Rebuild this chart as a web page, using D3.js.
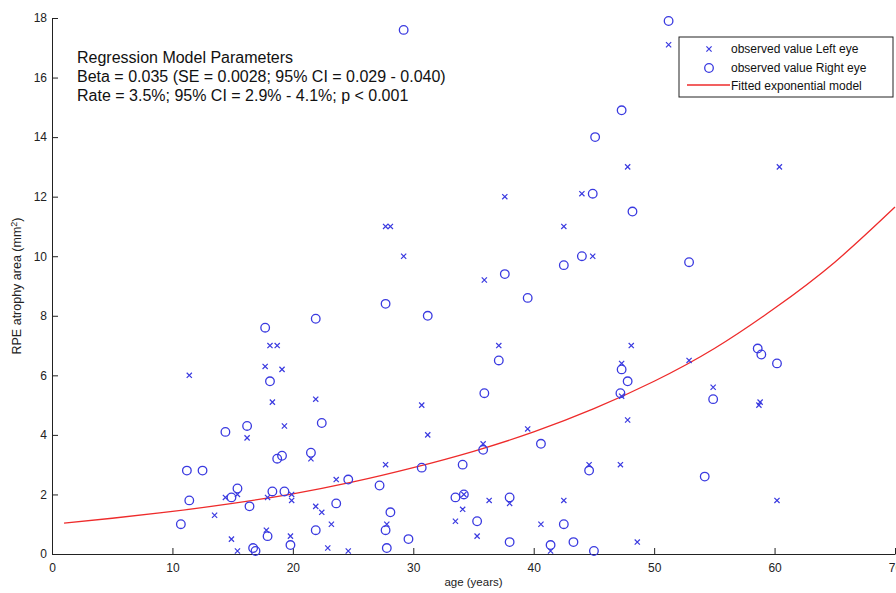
<!DOCTYPE html>
<html>
<head>
<meta charset="utf-8">
<script src="https://cdn.jsdelivr.net/npm/d3@7"></script>
<style>
  body { margin: 0; background: #fff; }
  svg { display: block; font-family: "Liberation Sans", Arial, Helvetica, sans-serif; }
</style>
</head>
<body>
<svg id="chart"></svg>
<script>
// observed values, left eye (crosses)
const leftAge = [11.4, 13.5, 14.4, 14.9, 15.4, 15.4, 16.2, 17.7, 17.8, 17.9, 18.1, 18.3, 18.7, 19.1, 19.3, 19.8, 19.9, 19.9,
  21.5, 21.9, 21.9, 22.4, 22.9, 23.2, 23.6, 24.6, 27.7, 27.7, 28.1, 27.8, 29.2, 30.7, 31.2, 33.5, 34.1, 34.2, 35.3, 35.8,
  35.9, 36.3, 37.1, 37.6, 38.0, 39.5, 40.6, 41.4, 42.5, 42.5, 44.0, 44.6, 44.9, 47.2, 47.3, 47.3, 47.8, 47.8, 48.1, 48.6,
  51.2, 52.9, 54.9, 58.7, 58.8, 60.2, 60.4]
const leftArea = [6.0, 1.3, 1.9, 0.5, 2.0, 0.1, 3.9, 6.3, 0.8, 1.9, 7.0, 5.1, 7.0, 6.2, 4.3, 0.6, 2.0, 1.8,
  3.2, 5.2, 1.6, 1.4, 0.2, 1.0, 2.5, 0.1, 3.0, 11.0, 11.0, 1.0, 10.0, 5.0, 4.0, 1.1, 1.5, 2.0, 0.6, 3.7,
  9.2, 1.8, 7.0, 12.0, 1.7, 4.2, 1.0, 0.1, 11.0, 1.8, 12.1, 3.0, 10.0, 3.0, 6.4, 5.3, 13.0, 4.5, 7.0, 0.4,
  17.1, 6.5, 5.6, 5.0, 5.1, 1.8, 13.0]

// observed values, right eye (circles)
const rightAge = [10.7, 11.2, 11.4, 12.5, 14.4, 14.9, 15.4, 16.2, 16.4, 16.7, 16.9, 17.7, 17.9, 18.1, 18.3, 18.7, 19.1, 19.3,
  19.8, 21.5, 21.9, 21.9, 22.4, 23.6, 24.6, 27.2, 27.7, 27.7, 27.8, 28.1, 29.2, 29.6, 30.7, 31.2, 33.5, 34.1, 34.2, 35.3,
  35.8, 35.9, 37.1, 37.6, 38.0, 38.0, 39.5, 40.6, 41.4, 42.5, 42.5, 43.3, 44.0, 44.6, 44.9, 45.0, 45.1, 47.2, 47.3, 47.3,
  47.8, 48.2, 51.2, 52.9, 54.2, 54.9, 58.6, 58.9, 60.2]
const rightArea = [1.0, 2.8, 1.8, 2.8, 4.1, 1.9, 2.2, 4.3, 1.6, 0.2, 0.1, 7.6, 0.6, 5.8, 2.1, 3.2, 3.3, 2.1,
  0.3, 3.4, 7.9, 0.8, 4.4, 1.7, 2.5, 2.3, 8.4, 0.8, 0.2, 1.4, 17.6, 0.5, 2.9, 8.0, 1.9, 3.0, 2.0, 1.1,
  3.5, 5.4, 6.5, 9.4, 1.9, 0.4, 8.6, 3.7, 0.3, 9.7, 1.0, 0.4, 10.0, 2.8, 12.1, 0.1, 14.0, 5.4, 14.9, 6.2,
  5.8, 11.5, 17.9, 9.8, 2.6, 5.2, 6.9, 6.7, 6.4]

// fitted exponential model
const fitAge = [1, 5, 10, 15, 20, 25, 30, 35, 40, 45, 50, 55, 60, 65, 70]
const fitArea = [1.04, 1.2, 1.43, 1.7, 2.02, 2.42, 2.9, 3.45, 4.1, 4.88, 5.8, 6.9, 8.25, 9.8, 11.65]

const xTicks = [0, 10, 20, 30, 40, 50, 60, 70]
const yTicks = [0, 2, 4, 6, 8, 10, 12, 14, 16, 18]

const paramLines = [
  'Regression Model Parameters',
  'Beta = 0.035 (SE = 0.0028; 95% CI = 0.029 - 0.040)',
  'Rate = 3.5%; 95% CI = 2.9% - 4.1%; p < 0.001'
]
const legendLabels = ['observed value Left eye', 'observed value Right eye', 'Fitted exponential model']

let width = 896
let height = 593
let padLeft = 52
let padRight = 1
let padTop = 18
let padBottom = 39

const blue = '#3a3ae0'
const red = '#ee2b2b'

let svg = d3.select('#chart')
  .attr('width', width)
  .attr('height', height)

svg.append('rect').attr('width', width).attr('height', height).attr('fill', '#fff')

let xScale = d3.scaleLinear().domain([0, 70]).range([padLeft, width - padRight])
let yScale = d3.scaleLinear().domain([0, 18]).range([height - padBottom, padTop])

// axes (ticks point inward, like matlab)
svg.append('g')
  .attr('transform', 'translate(0,' + (height - padBottom) + ')')
  .call(d3.axisBottom(xScale).tickValues(xTicks).tickSizeInner(-6).tickSizeOuter(0).tickPadding(9))
  .call(g => g.select('.domain').attr('stroke', '#222'))
  .call(g => g.selectAll('.tick line').attr('stroke', '#222'))
  .call(g => g.selectAll('.tick text').attr('font-size', 12).attr('fill', '#222').attr('font-family', null))

svg.append('g')
  .attr('transform', 'translate(' + padLeft + ',0)')
  .call(d3.axisLeft(yScale).tickValues(yTicks).tickSizeInner(-6).tickSizeOuter(0).tickPadding(5))
  .call(g => g.select('.domain').attr('stroke', '#222'))
  .call(g => g.selectAll('.tick line').attr('stroke', '#222'))
  .call(g => g.selectAll('.tick text').attr('font-size', 12).attr('fill', '#222').attr('font-family', null))

// axis labels
svg.append('text')
  .attr('x', xScale(35))
  .attr('y', 586)
  .attr('text-anchor', 'middle')
  .attr('font-size', 11.5)
  .attr('fill', '#222')
  .text('age (years)')

let yLab = svg.append('text')
  .attr('transform', 'translate(21,' + yScale(9) + ') rotate(-90)')
  .attr('text-anchor', 'middle')
  .attr('font-size', 12.5)
  .attr('fill', '#222')
yLab.append('tspan').text('RPE atrophy area (mm')
yLab.append('tspan').attr('font-size', 9).attr('dy', -4).text('2')
yLab.append('tspan').attr('dy', 4).text(')')

// fitted curve
let line = d3.line()
  .x((d, i) => xScale(fitAge[i]))
  .y(d => yScale(d))
  .curve(d3.curveNatural)
svg.append('path')
  .attr('d', line(fitArea))
  .attr('fill', 'none')
  .attr('stroke', red)
  .attr('stroke-width', 1.3)

// crosses, left eye
let cross = 'M-2.6,-2.6L2.6,2.6M-2.6,2.6L2.6,-2.6'
svg.append('g').selectAll('path')
  .data(leftAge)
  .join('path')
  .attr('transform', (d, i) => 'translate(' + xScale(d) + ',' + yScale(leftArea[i]) + ')')
  .attr('d', cross)
  .attr('stroke', blue)
  .attr('stroke-width', 1.2)
  .attr('fill', 'none')

// circles, right eye
svg.append('g').selectAll('circle')
  .data(rightAge)
  .join('circle')
  .attr('cx', d => xScale(d))
  .attr('cy', (d, i) => yScale(rightArea[i]))
  .attr('r', 4.3)
  .attr('stroke', blue)
  .attr('stroke-width', 1.3)
  .attr('fill', 'none')

// regression parameter text
svg.append('g').selectAll('text')
  .data(paramLines)
  .join('text')
  .attr('x', 77)
  .attr('y', (d, i) => 63 + i * 19)
  .attr('font-size', 16)
  .attr('fill', '#111')
  .text(d => d)

// legend
let lg = svg.append('g').attr('transform', 'translate(679,37)')
lg.append('rect')
  .attr('width', 214)
  .attr('height', 60)
  .attr('fill', '#fff')
  .attr('stroke', '#222')
  .attr('stroke-width', 1)
lg.append('path')
  .attr('transform', 'translate(30,12)')
  .attr('d', cross)
  .attr('stroke', blue)
  .attr('stroke-width', 1.2)
lg.append('circle')
  .attr('cx', 30).attr('cy', 31).attr('r', 4.3)
  .attr('stroke', blue).attr('stroke-width', 1.3).attr('fill', 'none')
lg.append('line')
  .attr('x1', 8).attr('x2', 51).attr('y1', 48).attr('y2', 48)
  .attr('stroke', red).attr('stroke-width', 1.3)
lg.selectAll('text.lab')
  .data(legendLabels)
  .join('text')
  .attr('class', 'lab')
  .attr('x', 52)
  .attr('y', (d, i) => 16 + i * 18.5)
  .attr('font-size', 12)
  .attr('fill', '#111')
  .text(d => d)
</script>
</body>
</html>
